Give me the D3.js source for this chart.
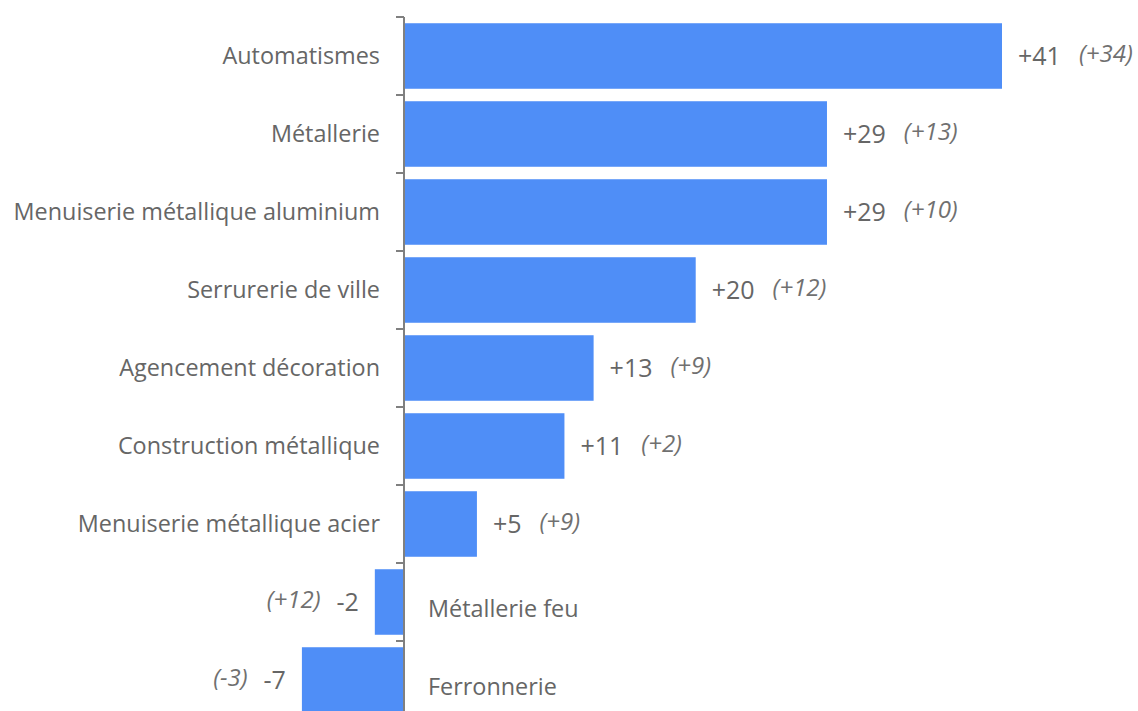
<!DOCTYPE html>
<html><head><meta charset="utf-8">
<script src="https://cdn.jsdelivr.net/npm/d3@7"></script>
<style>
html,body{margin:0;padding:0;background:#fff;}
svg{display:block;}
</style></head>
<body>
<svg id="chart" width="1138" height="711"></svg>
<script>
const categories = ["Automatismes","Métallerie","Menuiserie métallique aluminium","Serrurerie de ville","Agencement décoration","Construction métallique","Menuiserie métallique acier","Métallerie feu","Ferronnerie"];
const values = [41, 29, 29, 20, 13, 11, 5, -2, -7];
const previous = ["(+34)","(+13)","(+10)","(+12)","(+9)","(+2)","(+9)","(+12)","(-3)"];

const svg = d3.select("#chart");
const font = "'Open Sans', sans-serif";
const textColor = "#666666";

const y = d3.scaleBand().domain(categories).range([17, 17 + 78*categories.length]).paddingInner(0.16).paddingOuter(0.08);
const x = d3.scaleLinear().domain([0, 41]).range([404, 1002]);
const x0 = x(0);

// bars
svg.append("g").selectAll("rect").data(categories).join("rect")
  .attr("x", (d,i)=>Math.min(x(values[i]), x0))
  .attr("y", d=>y(d))
  .attr("width", (d,i)=>Math.abs(x(values[i]) - x0))
  .attr("height", y.bandwidth())
  .attr("fill", "#4f8ef7");

// axis line
const axis = d3.axisLeft(y).tickSize(0).tickFormat("").tickSizeOuter(0);
const ag = svg.append("g").attr("transform", `translate(${x0},0)`).call(axis);
ag.select(".domain").attr("stroke", "#808080").attr("stroke-width", 2)
  .attr("d", `M0,${y.range()[0]}V${y.range()[1]}`);
// boundary ticks
const half = y.step()*y.paddingInner()/2;
const bounds = categories.map(c=>y(c)-half);
ag.selectAll("line.b").data(bounds).join("line").attr("class","b")
  .attr("x1", -8).attr("x2", 0).attr("y1", d=>d).attr("y2", d=>d)
  .attr("stroke", "#808080").attr("stroke-width", 2);

// category labels
svg.append("g").selectAll("text").data(categories).join("text")
  .attr("x", (d,i)=> values[i] >= 0 ? x0 - 24 : x0 + 24)
  .attr("y", (d,i)=> y(d) + y.bandwidth()/2 + (values[i] >= 0 ? 0 : 7))
  .attr("dy", "0.35em")
  .attr("text-anchor", (d,i)=> values[i] >= 0 ? "end" : "start")
  .attr("font-family", font).attr("font-size", 23.4).attr("fill", textColor)
  .text(d=>d);

// value labels
const vg = svg.append("g");
categories.forEach((c,i)=>{
  const v = values[i];
  const cy = y(c) + y.bandwidth()/2;
  const label = (v>0?"+":"") + v;
  const pos = v >= 0;
  const t1 = vg.append("text")
    .attr("x", pos ? x(v) + 16 : x(v) - 16)
    .attr("y", cy).attr("dy","0.35em")
    .attr("text-anchor", pos ? "start" : "end")
    .attr("font-family", font).attr("font-size", 25).attr("fill", textColor)
    .text(label);
  const w = t1.node().getComputedTextLength();
  vg.append("text")
    .attr("x", pos ? x(v) + 16 + w + 18 : x(v) - 16 - w - 16)
    .attr("y", cy - 2).attr("dy","0.35em")
    .attr("text-anchor", pos ? "start" : "end")
    .attr("font-family", font).attr("font-size", 24).attr("font-style","italic").attr("fill", "#707070")
    .text(previous[i]);
});
</script>
</body></html>
